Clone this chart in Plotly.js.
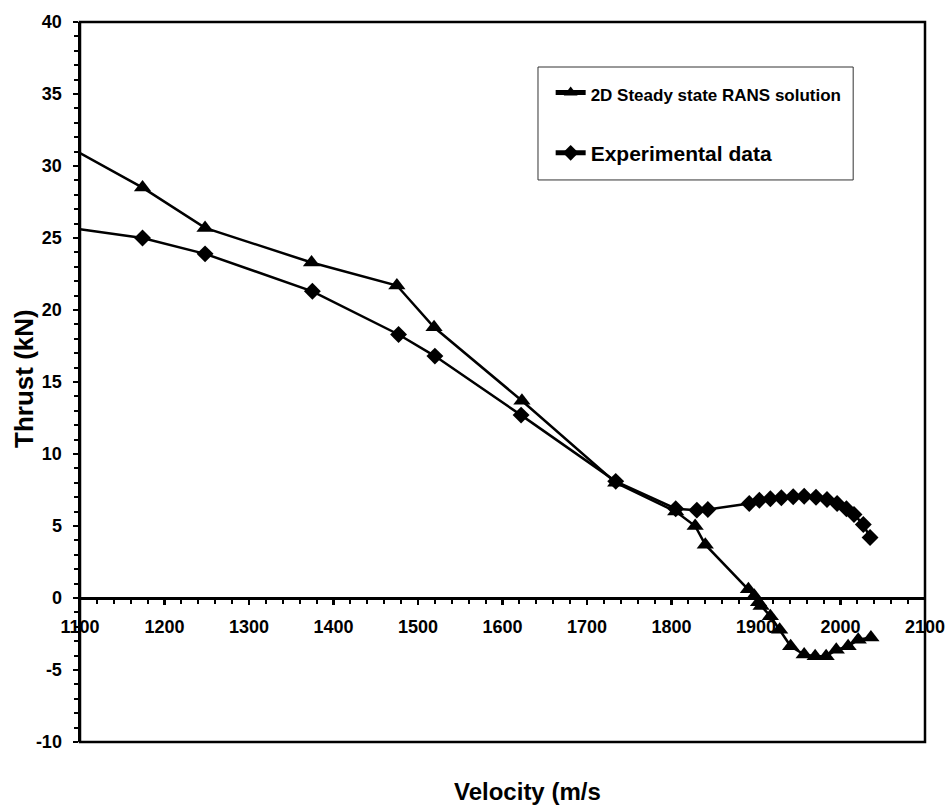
<!DOCTYPE html>
<html>
<head>
<meta charset="utf-8">
<script src="https://cdn.plot.ly/plotly-3.0.1.min.js"></script>
<style>html,body{margin:0;padding:0;background:#fff;}#chart{width:951px;height:809px;}</style>
</head>
<body>
<div id="chart"></div>
<script>
// RANS solution (triangles)
var ransVelocity = [1100, 1174, 1248, 1374, 1475, 1519, 1623, 1734, 1805, 1828, 1840, 1891, 1898, 1903, 1906, 1917, 1928, 1941, 1957, 1970, 1983, 1995, 2009, 2021, 2036];
var ransThrust   = [30.9, 28.5, 25.7, 23.3, 21.7, 18.8, 13.7, 8.0, 6.0, 5.0, 3.7, 0.6, 0.15, -0.3, -0.55, -1.26, -2.2, -3.35, -3.92, -4.05, -4.05, -3.6, -3.35, -2.9, -2.75];
// Experimental data (diamonds)
var expVelocity = [1100, 1174, 1248, 1375, 1477, 1520, 1622, 1734, 1805, 1830, 1843, 1892, 1904, 1917, 1930, 1944, 1957, 1971, 1984, 1996, 2007, 2016, 2027, 2035];
var expThrust   = [25.6, 25.0, 23.9, 21.3, 18.3, 16.8, 12.7, 8.1, 6.2, 6.1, 6.15, 6.56, 6.79, 6.89, 6.96, 7.03, 7.07, 7.0, 6.84, 6.56, 6.2, 5.8, 5.1, 4.2];
var xTickVals = [1100, 1200, 1300, 1400, 1500, 1600, 1700, 1800, 1900, 2000, 2100];
var yTickVals = [-10, -5, 0, 5, 10, 15, 20, 25, 30, 35, 40];
var ransName = '2D Steady state RANS solution';
var expName = 'Experimental data';

function sizes(arr, s) { return arr.map(function (v, i) { return i === 0 ? 0 : s; }); }

var traces = [
  {
    x: ransVelocity, y: ransThrust, type: 'scatter', mode: 'lines+markers',
    name: '<span style="font-size:17px"><b>' + ransName + '</b></span>',
    legendgroup: 'a',
    line: {color: '#000', width: 2.5},
    marker: {symbol: 'triangle-up', size: sizes(ransVelocity, 15), color: '#000', opacity: 1, line: {width: 0}}
  },
  {
    x: expVelocity, y: expThrust, type: 'scatter', mode: 'lines+markers',
    name: '<b>' + expName + '</b>',
    legendgroup: 'b',
    line: {color: '#000', width: 2.5},
    marker: {symbol: 'diamond', size: sizes(expVelocity, 13), color: '#000', opacity: 1, line: {width: 0}}
  }
];

var tickFont = {size: 18, family: '"Liberation Sans", Arial, sans-serif', weight: 700, color: '#000'};

var layout = {
  width: 951, height: 809,
  margin: {l: 80, r: 26, t: 22, b: 67},
  paper_bgcolor: '#fff', plot_bgcolor: '#fff',
  font: {family: '"Liberation Sans", Arial, sans-serif', color: '#000'},
  showlegend: true,
  legend: {
    x: 0.557, y: 0.93, xanchor: 'left', yanchor: 'top',
    bgcolor: 'rgba(0,0,0,0)', borderwidth: 0,
    font: {size: 21, color: '#000'},
    tracegroupgap: 30,
    itemsizing: 'constant'
  },
  xaxis: {
    range: [1100, 2100],
    tickvals: xTickVals,
    ticktext: xTickVals.map(String),
    anchor: 'free', position: 0.2,
    showline: true, linecolor: '#000', linewidth: 2.5,
    ticks: 'outside', ticklen: 5, tickwidth: 2.5, tickcolor: '#000',
    ticklabelstandoff: 7,
    minor: {dtick: 20, ticks: 'outside', ticklen: 4, tickwidth: 2, tickcolor: '#000'},
    showgrid: false, zeroline: false,
    tickfont: tickFont
  },
  yaxis: {
    range: [-10, 40],
    tickvals: yTickVals,
    ticktext: yTickVals.map(String),
    showline: true, linecolor: '#000', linewidth: 2.5,
    ticks: 'outside', ticklen: 5, tickwidth: 2.5, tickcolor: '#000',
    ticklabelstandoff: 7,
    minor: {dtick: 1, ticks: 'outside', ticklen: 4, tickwidth: 2, tickcolor: '#000'},
    showgrid: false, zeroline: false,
    tickfont: tickFont
  },
  shapes: [
    {type: 'rect', xref: 'paper', yref: 'paper', x0: 0, x1: 1, y0: 0, y1: 1,
     line: {color: '#000', width: 2.5}, layer: 'above'},
    {type: 'rect', xref: 'paper', yref: 'paper', x0: 0.542, x1: 0.915, y0: 0.7806, y1: 0.9375,
     line: {color: '#333', width: 1}, layer: 'above'}
  ],
  annotations: [
    {text: '<b>Velocity (m/s</b>', xref: 'paper', yref: 'paper', x: 0.529, y: -0.0694,
     xanchor: 'center', yanchor: 'middle', showarrow: false, font: {size: 24, color: '#000'}},
    {text: '<b>Thrust (kN)</b>', xref: 'paper', yref: 'paper', x: -0.0663, y: 0.5056,
     xanchor: 'center', yanchor: 'middle', textangle: -90, showarrow: false, font: {size: 26, color: '#000'}}
  ]
};

Plotly.newPlot('chart', traces, layout, {displayModeBar: false, staticPlot: true});
</script>
</body>
</html>
